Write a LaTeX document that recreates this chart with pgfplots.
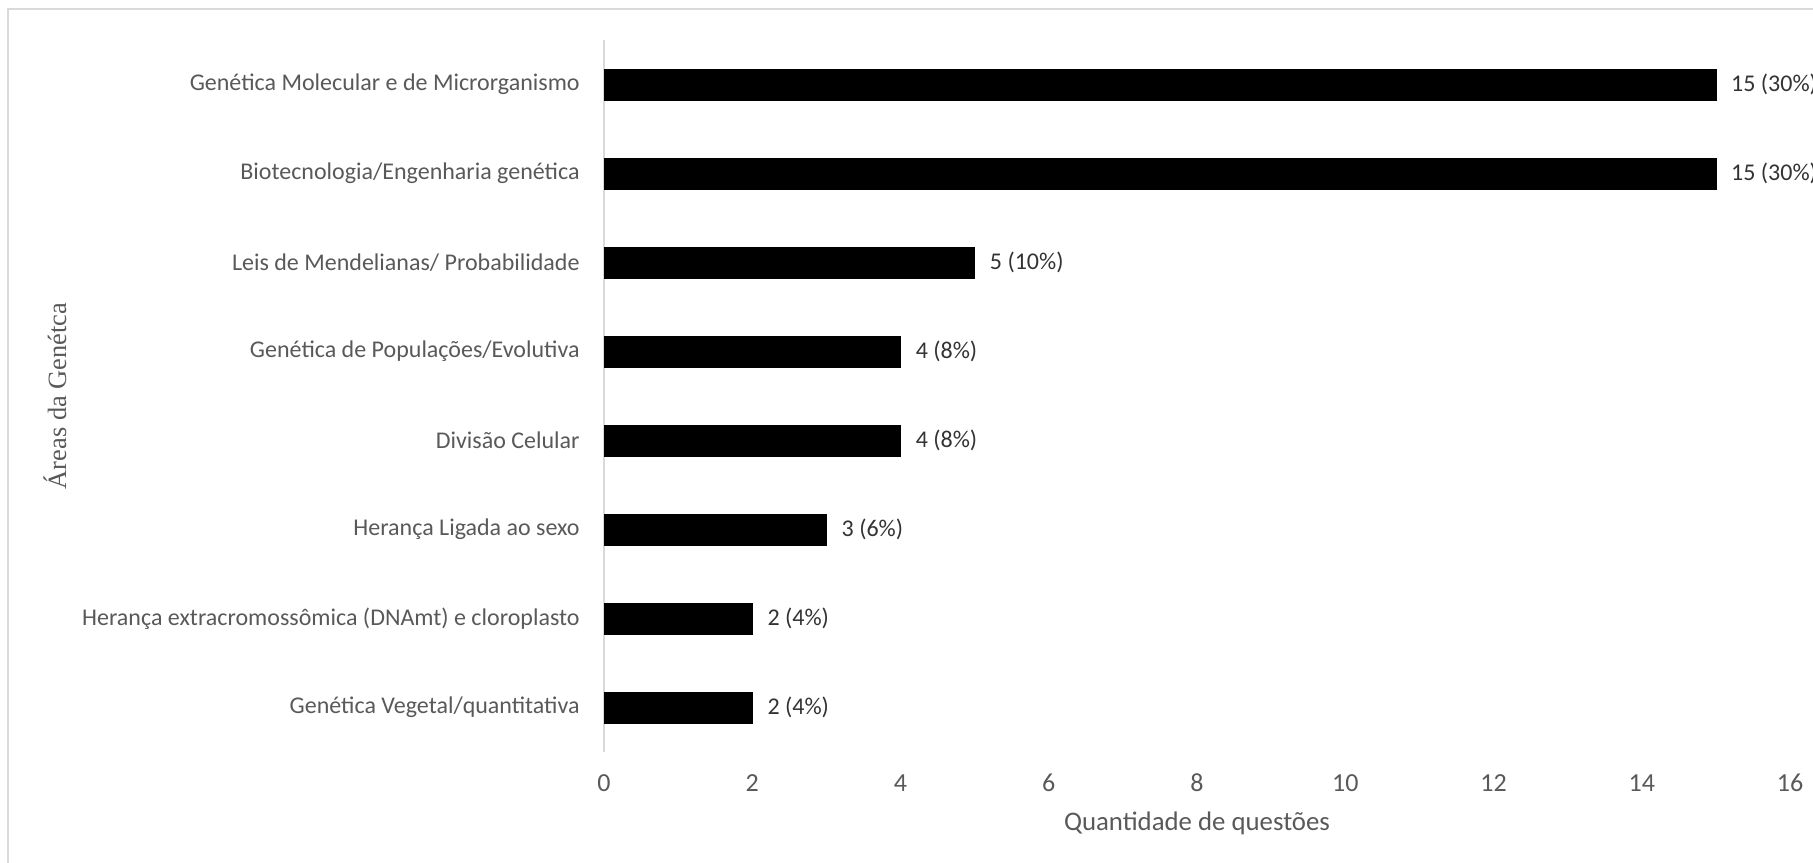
\documentclass[border=0pt]{standalone}
\usepackage{fontspec}
\setmainfont{Carlito}
\newfontfamily\serifont{Liberation Serif}
\usepackage{pgfplots}
\pgfplotsset{compat=1.18}
\definecolor{txtgray}{HTML}{595959}
\definecolor{linegray}{HTML}{D9D9D9}
\begin{document}
\begin{tikzpicture}
\path[use as bounding box] (0,0) rectangle (906.5pt,431pt);
\draw[linegray, line width=1pt] (4pt,-10pt) -- (4pt,426.5pt) -- (920pt,426.5pt);
\begin{axis}[
  scale only axis,
  width=593pt, height=356pt,
  at={(302pt,55pt)}, anchor=south west,
  xbar, bar width=15.5pt,
  xmin=0, xmax=16, ymin=-0.5, ymax=7.5,
  xtick={0,2,...,16},
  ytick={0,...,7},
  yticklabels={Genética Vegetal/quantitativa,
    Herança extracromossômica (DNAmt) e cloroplasto,
    Herança Ligada ao sexo,
    Divisão Celular,
    Genética de Populações/Evolutiva,
    Leis de Mendelianas/ Probabilidade,
    Biotecnologia/Engenharia genética,
    Genética Molecular e de Microrganismo},
  axis lines=left,
  x axis line style={draw=none},
  y axis line style={-, draw=linegray, line width=1pt},
  major tick length=0pt,
  tick style={draw=none},
  /pgf/number format/assume math mode=true,
  xticklabel style={font=\fontsize{13}{15}\selectfont, text=txtgray, inner sep=0pt, anchor=center, yshift=-15.5pt},
  yticklabel style={font=\fontsize{12}{14}\selectfont, text=txtgray, inner sep=0pt, anchor=east, xshift=-12pt},
  xlabel={Quantidade de questões},
  xlabel style={font=\fontsize{13.4}{16}\selectfont, text=txtgray, at={(axis description cs:0.5,0)}, anchor=center, yshift=-35.5pt},
  ylabel={Áreas da Genétca},
  ylabel style={font=\serifont\fontsize{13.2}{16}\selectfont, text=txtgray, at={(axis description cs:-0.4629,0.5)}, anchor=center},
  point meta=explicit symbolic,
  nodes near coords,
  nodes near coords style={font=\fontsize{12}{14}\selectfont, text=black!80, anchor=west, inner sep=0pt, xshift=7.5pt},
]
\addplot[fill=black, draw=black, line width=0.3pt] coordinates {
  (15,7) [15 (30\%)]
  (15,6) [15 (30\%)]
  (5,5) [5 (10\%)]
  (4,4) [4 (8\%)]
  (4,3) [4 (8\%)]
  (3,2) [3 (6\%)]
  (2,1) [2 (4\%)]
  (2,0) [2 (4\%)]
};
\end{axis}
\end{tikzpicture}
\end{document}
